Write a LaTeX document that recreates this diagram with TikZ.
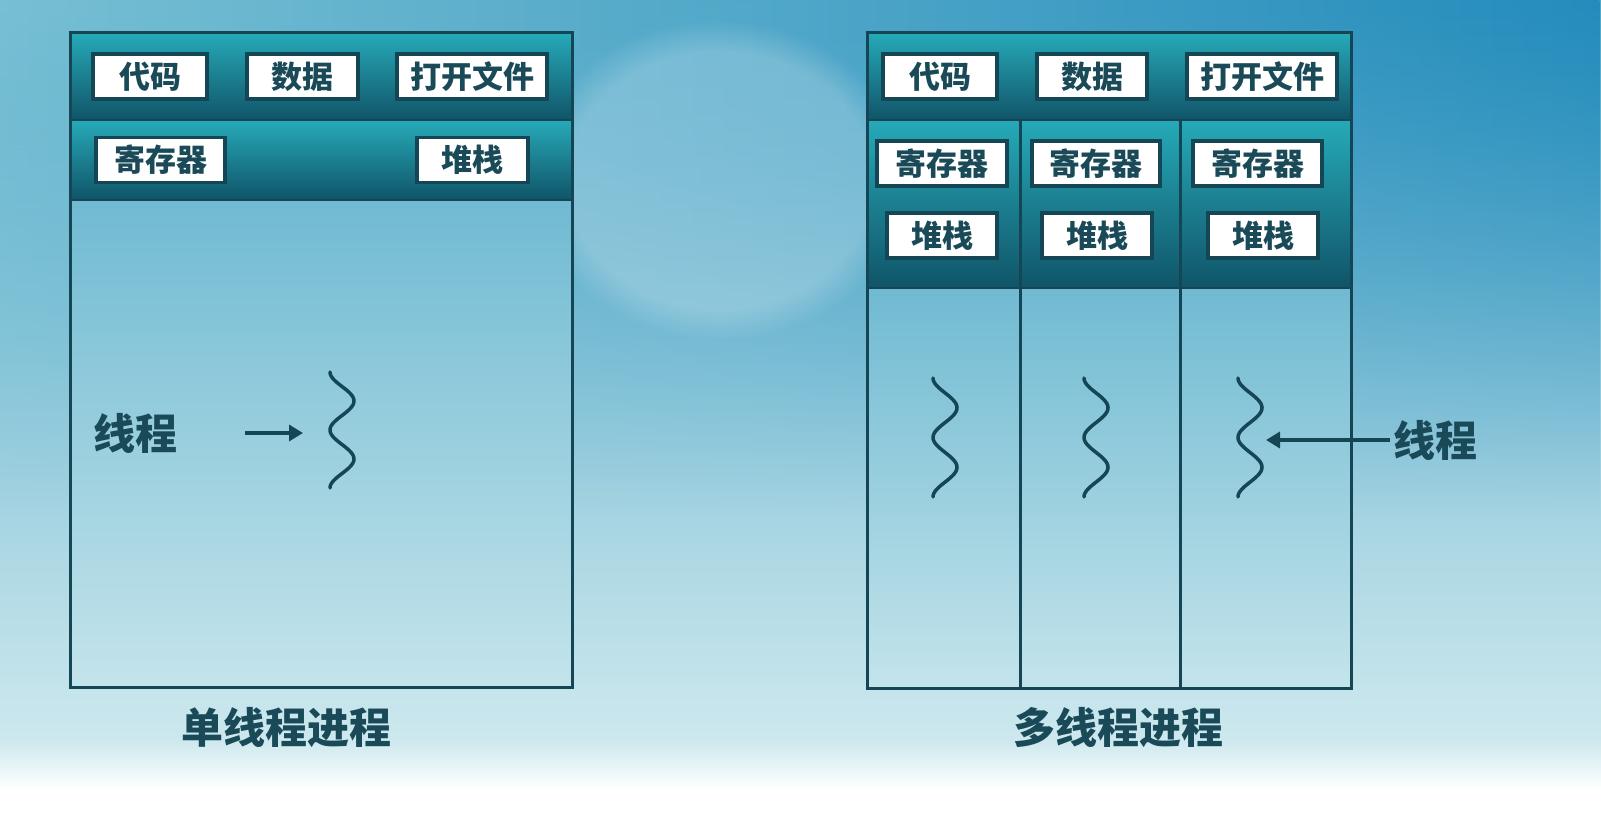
\documentclass[tikz,border=0pt]{standalone}
\usepackage{fontspec}
\setmainfont{Noto Sans CJK SC}
\usetikzlibrary{arrows.meta,fadings}
\definecolor{dk}{RGB}{20,70,86}
\definecolor{txt}{RGB}{26,74,88}
\definecolor{bgA}{RGB}{80,168,200}
\definecolor{bgB}{RGB}{130,196,216}
\definecolor{bgC}{RGB}{205,232,238}
\definecolor{bgL}{RGB}{120,192,212}
\definecolor{bgR}{RGB}{36,140,188}
\definecolor{inA}{RGB}{112,186,210}
\definecolor{inB}{RGB}{196,228,235}
\definecolor{bandT}{RGB}{38,170,184}
\definecolor{bandB}{RGB}{16,84,104}
\tikzset{
  outerbox/.style={draw=dk, line width=3pt},
  band/.style={top color=bandT, bottom color=bandB, draw=dk, line width=1.5pt},
  wbox/.style={draw=dk, line width=3.5pt, fill=white, minimum height=45pt, inner sep=0pt,
    font=\fontsize{31}{31}\selectfont\bfseries, text=txt},
  biglabel/.style={font=\fontsize{42}{42}\selectfont\bfseries, text=txt, inner sep=0pt},
  wig/.style={draw=dk, line width=3.5pt, line cap=round},
  arr/.style={draw=dk, line width=4pt, -{Triangle[length=14pt,width=16pt]}},
  divider/.style={draw=dk, line width=3pt}
}
\begin{document}
\begin{tikzpicture}[x=1pt,y=-1pt]
\useasboundingbox (0,0) rectangle (1601,840);
% background
\shade[top color=bgA, middle color=bgB, bottom color=bgC] (0,0) rectangle (1601,740);
\shade[left color=bgL, right color=bgR, path fading=south] (0,0) rectangle (1601,520);
\shade[top color=bgC, bottom color=white] (0,740) rectangle (1601,790);
\fill[white] (0,790) rectangle (1601,840);
\fill[white, opacity=0.22, path fading=circle with fuzzy edge 20 percent] (720,180) ellipse (190 and 160);

% ---------- single-threaded process ----------
\shade[top color=inA, bottom color=inB] (70,200) rectangle (572,687);
\shade[band] (70,33) rectangle (572,120);
\shade[band] (70,120) rectangle (572,200);
\draw[outerbox] (70,33) rectangle (572,687);

\node[wbox, minimum width=114pt] (code1) at (150,76.5) {代码};
\node[wbox, minimum width=111pt] (data1) at (302.5,76.5) {数据};
\node[wbox, minimum width=150pt] (file1) at (472,76.5) {打开文件};
\node[wbox, minimum width=129pt] (reg1) at (160.5,160) {寄存器};
\node[wbox, minimum width=111pt] (stk1) at (472.5,160) {堆栈};

\draw[wig] plot[domain=0:1, samples=90, smooth, variable=\t] ({342 - 12*cos(720*\t)}, {372 + 116*\t});
\node[biglabel] (lblL) at (135,433) {线程};
\coordinate (arrLs) at (245,433);
\coordinate (arrLe) at (303,433);
\draw[arr] (arrLs) -- (arrLe);
\node[biglabel] (capL) at (286,728) {单线程进程};

% ---------- multi-threaded process ----------
\shade[top color=inA, bottom color=inB] (867,288) rectangle (1351,688);
\shade[band] (867,33) rectangle (1351,120);
\shade[band] (867,120) rectangle (1020,288);
\shade[band] (1020,120) rectangle (1180,288);
\shade[band] (1180,120) rectangle (1351,288);
\draw[divider] (1020,120) -- (1020,688);
\draw[divider] (1180,120) -- (1180,688);
\draw[outerbox] (867,33) rectangle (1351,688);

\node[wbox, minimum width=114pt] (code2) at (940,76.5) {代码};
\node[wbox, minimum width=110pt] (data2) at (1092,76.5) {数据};
\node[wbox, minimum width=150pt] (file2) at (1262,76.5) {打开文件};
\node[wbox, minimum width=130pt] (reg2a) at (942,163.5) {寄存器};
\node[wbox, minimum width=128pt] (reg2b) at (1096,163.5) {寄存器};
\node[wbox, minimum width=129pt] (reg2c) at (1257.5,163.5) {寄存器};
\node[wbox, minimum width=110pt] (stk2a) at (942,235.5) {堆栈};
\node[wbox, minimum width=110pt] (stk2b) at (1097,235.5) {堆栈};
\node[wbox, minimum width=110pt] (stk2c) at (1263,235.5) {堆栈};

\draw[wig] plot[domain=0:1, samples=90, smooth, variable=\t] ({945 - 12*cos(720*\t)}, {378 + 119*\t});
\draw[wig] plot[domain=0:1, samples=90, smooth, variable=\t] ({1096 - 12*cos(720*\t)}, {378 + 119*\t});
\draw[wig] plot[domain=0:1, samples=90, smooth, variable=\t] ({1250 - 12*cos(720*\t)}, {378 + 119*\t});

\node[biglabel] (lblR) at (1435,440) {线程};
\coordinate (arrRs) at (1390,440);
\coordinate (arrRe) at (1266,440);
\draw[arr] (arrRs) -- (arrRe);
\node[biglabel] (capR) at (1118,728) {多线程进程};
\end{tikzpicture}
\end{document}
